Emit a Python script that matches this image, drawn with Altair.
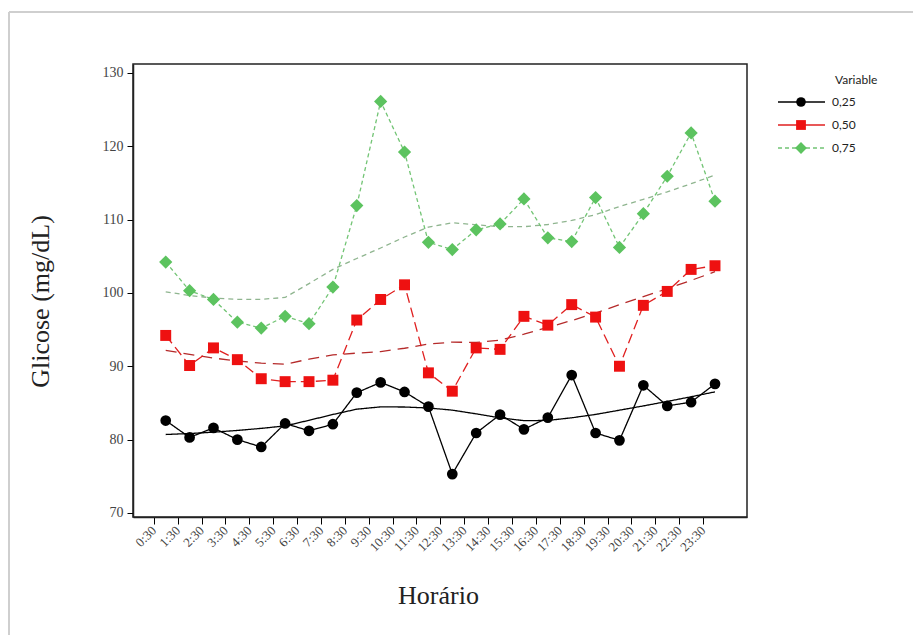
import json
import altair as alt
import pandas as pd

# ---- data ----
hours = ["0:30", "1:30", "2:30", "3:30", "4:30", "5:30", "6:30", "7:30", "8:30",
         "9:30", "10:30", "11:30", "12:30", "13:30", "14:30", "15:30", "16:30",
         "17:30", "18:30", "19:30", "20:30", "21:30", "22:30", "23:30"]
series_names = ["0,25", "0,50", "0,75"]
glic_025 = [82.6, 80.3, 81.6, 80.0, 79.0, 82.2, 81.2, 82.1, 86.4, 87.8, 86.5, 84.5,
            75.3, 80.9, 83.4, 81.4, 83.0, 88.8, 80.9, 79.9, 87.4, 84.6, 85.1, 87.6]
glic_050 = [94.2, 90.1, 92.5, 90.9, 88.3, 87.9, 87.9, 88.1, 96.3, 99.1, 101.1, 89.1,
            86.6, 92.5, 92.3, 96.8, 95.6, 98.4, 96.7, 90.0, 98.3, 100.2, 103.2, 103.7]
glic_075 = [104.2, 100.3, 99.1, 96.0, 95.2, 96.8, 95.8, 100.8, 111.9, 126.1, 119.2, 106.9,
            105.9, 108.6, 109.4, 112.8, 107.5, 107.0, 113.0, 106.2, 110.8, 115.9, 121.8, 112.5]
y_ticks = [70, 80, 90, 100, 110, 120, 130]

rows = []
for name, vals in zip(series_names, [glic_025, glic_050, glic_075]):
    for i, (h, v) in enumerate(zip(hours, vals)):
        rows.append({"i": i, "Horario": h, "Variable": name, "value": v})
df = pd.DataFrame(rows)

# ---- styles ----
styles = {
    "0,25": dict(color="#000000", line_color="#000000", dash=[1, 0], shape="circle", size=115,
                 fit_color="#000000", fit_dash=[1, 0]),
    "0,50": dict(color="#ee1111", line_color="#e02020", dash=[10, 5], shape="square", size=120,
                 fit_color="#b52a2a", fit_dash=[11, 7]),
    "0,75": dict(color="#5cc35f", line_color="#72c474", dash=[4, 3], shape="diamond", size=175,
                 fit_color="#8fb58f", fit_dash=[5, 4]),
}

serif = "Liberation Serif"
tick_pos = [k - 0.5 for k in range(len(hours))]
label_expr = json.dumps(hours) + "[round(datum.value + 0.5)]"

X = alt.X("i:Q",
          scale=alt.Scale(domain=[-1.37, 24.34], nice=False, zero=False),
          axis=alt.Axis(values=tick_pos, labelExpr=label_expr, title="Horário",
                        labelAngle=315, labelAlign="right", labelBaseline="middle",
                        labelFont=serif, labelFontSize=13, labelColor="#444444",
                        labelPadding=4, tickSize=7, tickColor="#000000", domainColor="#222222",
                        domainWidth=1.5,
                        titleFont=serif, titleFontSize=26, titleFontWeight="normal",
                        titleColor="#222222", titleX=305, titleY=86,
                        titleAlign="center", titleBaseline="alphabetic", grid=False,
                        labelOverlap=False))
Y = alt.Y("value:Q",
          scale=alt.Scale(domain=[69.45, 131.2], nice=False, zero=False),
          axis=alt.Axis(values=y_ticks, title="Glicose (mg/dL)",
                        labelFont=serif, labelFontSize=14, labelColor="#444444",
                        labelPadding=4, tickSize=6, tickColor="#000000", domainColor="#222222",
                        domainWidth=1.5,
                        titleFont=serif, titleFontSize=26, titleFontWeight="normal",
                        titleColor="#222222", titleX=-93, titleY=237,
                        titleAlign="center", titleBaseline="middle", grid=False))

main_layers = []
for name in series_names:
    st = styles[name]
    base = alt.Chart(df).transform_filter(alt.datum.Variable == name)
    line = base.mark_line(color=st["line_color"], strokeWidth=1.3,
                          strokeDash=st["dash"]).encode(x=X, y=Y)
    fit = base.transform_loess("i", "value", bandwidth=0.5).mark_line(
        color=st["fit_color"], strokeWidth=1.3, strokeDash=st["fit_dash"]).encode(x=X, y=Y)
    main_layers += [fit, line]
for name in series_names:
    st = styles[name]
    base = alt.Chart(df).transform_filter(alt.datum.Variable == name)
    pts = base.mark_point(shape=st["shape"], filled=True, size=st["size"],
                          color=st["color"], opacity=1).encode(x=X, y=Y)
    main_layers.append(pts)
main = alt.layer(*main_layers)

# ---- custom legend (line + marker per series) ----
leg_df = pd.DataFrame({"Variable": series_names})
LY = alt.Y("Variable:N", axis=None,
           scale=alt.Scale(type="point", domain=series_names, range=[38, 84], padding=0))
leg_layers = []
for name in series_names:
    st = styles[name]
    b = alt.Chart(leg_df).transform_filter(alt.datum.Variable == name)
    leg_layers.append(b.mark_rule(color=st["line_color"], strokeWidth=1.3,
                                  strokeDash=[1, 0] if name != "0,75" else [4, 3])
                      .encode(x=alt.value(645), x2=alt.value(692), y=LY))
    leg_layers.append(b.mark_point(shape=st["shape"], filled=True, size=st["size"] * 0.8,
                                   color=st["color"], opacity=1)
                      .encode(x=alt.value(668), y=LY))
leg_layers.append(alt.Chart(leg_df).mark_text(align="left", baseline="middle", font="Lato",
                                              fontSize=12, color="#222222")
                  .encode(x=alt.value(699), y=LY, text="Variable:N"))
leg_layers.append(alt.Chart(pd.DataFrame({"t": ["Variable"]})).mark_text(
    align="left", baseline="middle", font="Lato", fontSize=12, color="#222222")
    .encode(x=alt.value(702), y=alt.value(16), text="t:N"))
legend = alt.layer(*leg_layers)

# ---- outer figure border (top and left edge) ----
bdf = pd.DataFrame({"a": [0]})
border = alt.layer(
    alt.Chart(bdf).mark_rule(color="#cfcfcf", strokeWidth=2).encode(
        x=alt.value(-124), x2=alt.value(790), y=alt.value(-52)),
    alt.Chart(bdf).mark_rule(color="#cfcfcf", strokeWidth=2).encode(
        x=alt.value(-124), y=alt.value(-52), y2=alt.value(580)),
)

chart = alt.layer(main, legend, border).resolve_scale(y="independent").properties(
    width=614, height=453,
    background="white",
    autosize=alt.AutoSizeParams(type="none"),
    padding={"left": 125, "top": 56, "right": 166, "bottom": 118},
).configure_view(stroke="#222222", strokeWidth=1.5)

chart.save("out.html", embed_options={"renderer": "svg", "actions": False})
